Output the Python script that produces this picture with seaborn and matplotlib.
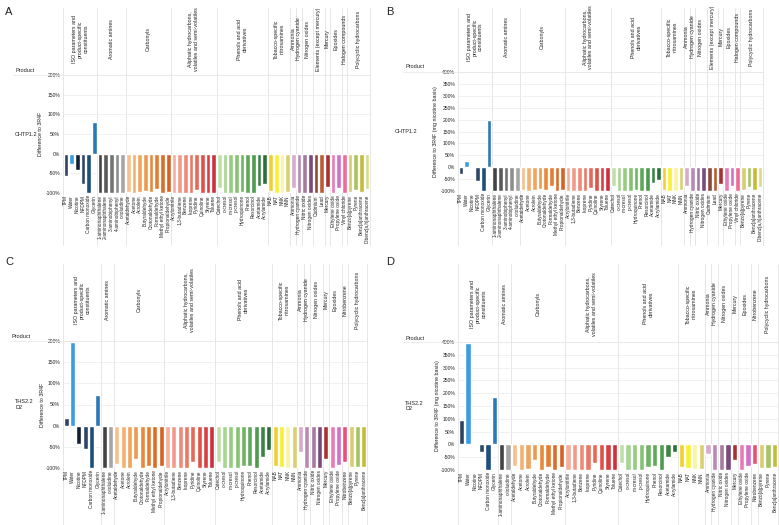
import numpy as np
import pandas as pd
import matplotlib
matplotlib.use("Agg")
import matplotlib.pyplot as plt
import matplotlib.transforms as mtransforms
from matplotlib.lines import Line2D
import seaborn as sns

sns.set_theme(style="white")
plt.rcParams['font.family'] = ['Liberation Sans', 'DejaVu Sans']

# ---------------- data ----------------
names_ab = ["TPM", "Water", "Nicotine", "NFDPM", "Carbon monoxide", "Glycerin",
            "1-aminonaphthalene", "2-aminonaphthalene", "3-aminobiphenyl", "4-aminobiphenyl", "o-toluidine",
            "Acetaldehyde", "Acetone", "Acrolein", "Butyraldehyde", "Crotonaldehyde", "Formaldehyde",
            "Methyl ethyl ketone", "Propionaldehyde",
            "Acrylonitrile", "1,3-butadiene", "Benzene", "Isoprene", "Pyridine", "Quinoline", "Styrene", "Toluene",
            "Catechol", "o-cresol", "m-cresol", "p-cresol", "Hydroquinone", "Phenol", "Resorcinol",
            "Acetamide", "Acrylamide",
            "NAB", "NAT", "NNK", "NNN",
            "Ammonia", "Hydrogen cyanide", "Nitric oxide", "Nitrogen oxides", "Cadmium", "Lead", "Mercury",
            "Ethylene oxide", "Propylene oxide", "Vinyl chloride",
            "Benzo[a]pyrene", "Pyrene", "Benz[a]anthracene", "Dibenz[a,h]anthracene"]
groups_ab = ["ISO parameters and\nproduct-specific\nconstituents", "Aromatic amines", "Carbonyls",
             "Aliphatic hydrocarbons,\nvolatiles and semi-volatiles", "Phenols and acid\nderivatives",
             "Tobacco-specific\nnitrosamines", "Ammonia", "Hydrogen cyanide", "Nitrogen oxides",
             "Elements (except mercury)", "Mercury", "Epoxides", "Halogen compounds", "Polycyclic hydrocarbons"]
sizes_ab = [6, 5, 8, 8, 9, 4, 1, 1, 2, 2, 1, 2, 1, 4]

vals_a = [-56, -26, -41, -76, -100, 81,
          -100, -100, -100, -100, -100,
          -97, -99, -98, -95, -97, -89, -100, -98,
          -100, -100, -100, -100, -93, -100, -100, -100,
          -87, -100, -100, -100, -97, -100, -100, -82, -77,
          -96, -100, -100, -97,
          -87, -100, -100, -100, -100, -100, -85,
          -100, -88, -100,
          -97, -92, -97, -90]
vals_b = [-28, 25, -1, -58, -100, 200,
          -100, -100, -100, -100, -100,
          -94, -100, -96, -92, -96, -79, -100, -96,
          -100, -100, -100, -100, -87, -100, -100, -100,
          -77, -100, -100, -100, -95, -100, -100, -65, -55,
          -96, -98, -100, -97,
          -77, -100, -100, -100, -100, -100, -70,
          -100, -78, -100,
          -97, -85, -97, -83]

names_cd = ["TPM", "Water", "Nicotine", "NFDPM", "Carbon monoxide", "Glycerin",
            "1-aminonaphthalene", "o-toluidine",
            "Acetaldehyde", "Acetone", "Acrolein", "Butyraldehyde", "Crotonaldehyde", "Formaldehyde",
            "Methyl ethyl ketone", "Propionaldehyde",
            "Acrylonitrile", "1,3-butadiene", "Benzene", "Isoprene", "Pyridine", "Quinoline", "Styrene", "Toluene",
            "Catechol", "o-cresol", "m-cresol", "p-cresol", "Hydroquinone", "Phenol", "Resorcinol",
            "Acetamide", "Acrylamide",
            "NAB", "NAT", "NNK", "NNN",
            "Ammonia", "Hydrogen cyanide", "Nitric oxide", "Nitrogen oxides", "Mercury",
            "Ethylene oxide", "Propylene oxide", "Nitrobenzene",
            "Benzo[a]pyrene", "Pyrene", "Benz[a]anthracene"]
groups_cd = ["ISO parameters and\nproduct-specific\nconstituents", "Aromatic amines", "Carbonyls",
             "Aliphatic hydrocarbons,\nvolatiles and semi-volatiles", "Phenols and acid\nderivatives",
             "Tobacco-specific\nnitrosamines", "Ammonia", "Hydrogen cyanide", "Nitrogen oxides",
             "Mercury", "Epoxides", "Nitrobenzene", "Polycyclic hydrocarbons"]
sizes_cd = [6, 2, 8, 8, 9, 4, 1, 1, 2, 1, 2, 1, 3]

vals_c = [18, 198, -43, -56, -100, 73,
          -100, -100,
          -90, -100, -100, -79, -100, -95, -100, -95,
          -100, -100, -100, -100, -85, -100, -100, -100,
          -86, -100, -100, -100, -95, -95, -100, -73, -58,
          -95, -97, -100, -100,
          -62, -100, -100, -100, -78,
          -100, -93, -87,
          -97, -97, -97]
vals_d = [95, 398, 1, -31, -100, 186,
          -100, -100,
          -83, -100, -98, -62, -100, -90, -100, -87,
          -100, -100, -100, -100, -74, -100, -100, -100,
          -73, -100, -100, -100, -88, -84, -100, -51, -28,
          -88, -92, -98, -98,
          -37, -100, -100, -100, -61,
          -100, -85, -76,
          -92, -92, -90]

colors = {
    "TPM": "#2f4360", "Water": "#3a9de0", "Nicotine": "#132033", "NFDPM": "#2d4866",
    "Carbon monoxide": "#1d4f7c", "Glycerin": "#2a78b5",
    "1-aminonaphthalene": "#434343", "2-aminonaphthalene": "#5a5a5a", "3-aminobiphenyl": "#737373",
    "4-aminobiphenyl": "#8e8e8e", "o-toluidine": "#a6a6a6",
    "Acetaldehyde": "#f6c08c", "Acetone": "#f3b072", "Acrolein": "#f0a45c", "Butyraldehyde": "#ec9a4f",
    "Crotonaldehyde": "#e88a3a", "Formaldehyde": "#e47d30", "Methyl ethyl ketone": "#dc6d28",
    "Propionaldehyde": "#d36224",
    "Acrylonitrile": "#f5ad9c", "1,3-butadiene": "#f29a8a", "Benzene": "#ee8a78", "Isoprene": "#ea7866",
    "Pyridine": "#e56858", "Quinoline": "#df5048", "Styrene": "#d83e42", "Toluene": "#cf2e3c",
    "Catechol": "#bde0a8", "o-cresol": "#a5d590", "m-cresol": "#95cc80", "p-cresol": "#85c274",
    "Hydroquinone": "#6fb463", "Phenol": "#5ea858", "Resorcinol": "#4e9a4e", "Acetamide": "#3b8445",
    "Acrylamide": "#2b6e3c",
    "NAB": "#f0d030", "NAT": "#f8f030", "NNK": "#f8f5a0", "NNN": "#d9d070",
    "Ammonia": "#d8aacc", "Hydrogen cyanide": "#b98ab2", "Nitric oxide": "#a67aa0",
    "Nitrogen oxides": "#7b4a7b", "Cadmium": "#8b4a3a", "Lead": "#bb5a35", "Mercury": "#a83232",
    "Ethylene oxide": "#e87ab5", "Propylene oxide": "#d36fc4", "Vinyl chloride": "#ef6a98",
    "Nitrobenzene": "#e8507a",
    "Benzo[a]pyrene": "#d8cc70", "Pyrene": "#a8c462", "Benz[a]anthracene": "#c4bc38",
    "Dibenz[a,h]anthracene": "#d9d98a",
}

W, H = 779, 525
fig = plt.figure(figsize=(W / 100, H / 100), dpi=100)
LINE_C = "#dcdcdc"


def fy(y):
    return 1 - y / H


def draw_panel(letter, letter_xy, names, values, groups, sizes, ymax, ylabel, rowlabel,
               box, header_top, header_mid, line_bottom, product_xy, rowlabel_x, ylabel_x, left_line_x):
    x0, x1, ytop, ybot = box
    ax = fig.add_axes([x0 / W, fy(ybot), (x1 - x0) / W, (ybot - ytop) / H])
    df = pd.DataFrame({"name": names, "value": values})
    sns.barplot(data=df, x="name", y="value", hue="name", order=names, hue_order=names,
                palette=colors, legend=False, ax=ax, width=0.82, saturation=1)
    n = len(names)
    ax.set_xlim(-0.5, n - 0.5)
    ax.set_ylim(-100, ymax)
    ticks = np.arange(-100, ymax + 1, 50)
    ax.set_yticks(ticks)
    ax.set_yticklabels([f"{t}%" for t in ticks])
    ax.set_xticks(range(n))
    ax.set_xticklabels(names, rotation=90)
    ax.tick_params(axis="x", labelsize=3.4, length=0, pad=1.5)
    ax.tick_params(axis="y", labelsize=3.6, length=0, pad=2)
    ax.set_xlabel("")
    ax.set_ylabel("")
    ax.yaxis.grid(True, color="#ebebeb", lw=0.5)
    ax.set_axisbelow(True)
    for s in ax.spines.values():
        s.set_visible(False)

    trans = mtransforms.blended_transform_factory(ax.transData, fig.transFigure)
    bounds = np.concatenate([[0], np.cumsum(sizes)])
    for b in bounds:
        ax.add_line(Line2D([b - 0.5, b - 0.5], [fy(header_top), fy(line_bottom)],
                           transform=trans, color=LINE_C, lw=0.5, clip_on=False, zorder=0))
    for g, s, st in zip(groups, sizes, bounds[:-1]):
        cx = st + s / 2 - 0.5
        ax.text(cx, fy(header_mid), g, transform=trans, rotation=90, ha="center", va="center",
                fontsize=3.8, multialignment="center", color="#222222", clip_on=False)
    # line under header
    fig.add_artist(Line2D([left_line_x / W, x1 / W], [fy(ytop), fy(ytop)],
                          transform=fig.transFigure, color="#e6e6e6", lw=0.5))
    fig.text(letter_xy[0] / W, fy(letter_xy[1]), letter, fontsize=8, ha="left", va="center", color="#222222")
    fig.text(product_xy[0] / W, fy(product_xy[1]), "Product", fontsize=4, ha="left", va="center",
             color="#222222")
    fig.text(rowlabel_x / W, fy((ytop + ybot) / 2), rowlabel, fontsize=4, ha="left", va="center",
             color="#222222", multialignment="left")
    fig.text(ylabel_x / W, fy((ytop + ybot) / 2), ylabel, fontsize=3.8, ha="center", va="center",
             rotation=90, color="#222222")
    return ax


draw_panel("A", (5, 12), names_ab, vals_a, groups_ab, sizes_ab, 200, "Difference to 3R4F", "CHTP1.2",
           (63, 370, 75, 193), 8, 39, 245, (15, 70), 15, 40, 13)
draw_panel("B", (386, 12), names_ab, vals_b, groups_ab, sizes_ab, 400,
           "Difference to 3R4F (mg nicotine basis)", "CHTP1.2",
           (458, 763, 72, 191), 8, 37, 245, (405, 66), 395, 435, 403)
draw_panel("C", (5, 262), names_cd, vals_c, groups_cd, sizes_cd, 200, "Difference to 3R4F", "THS2.2\nD2",
           (63, 367, 341, 468), 264, 300, 525, (12, 336), 15, 42, 10)
draw_panel("D", (386, 262), names_cd, vals_d, groups_cd, sizes_cd, 400,
           "Difference to 3R4F (mg nicotine basis)", "THS2.2\nD2",
           (458, 778, 342, 470), 264, 304, 525, (405, 339), 405, 437, 403)

fig.savefig("out.png", dpi=100)
